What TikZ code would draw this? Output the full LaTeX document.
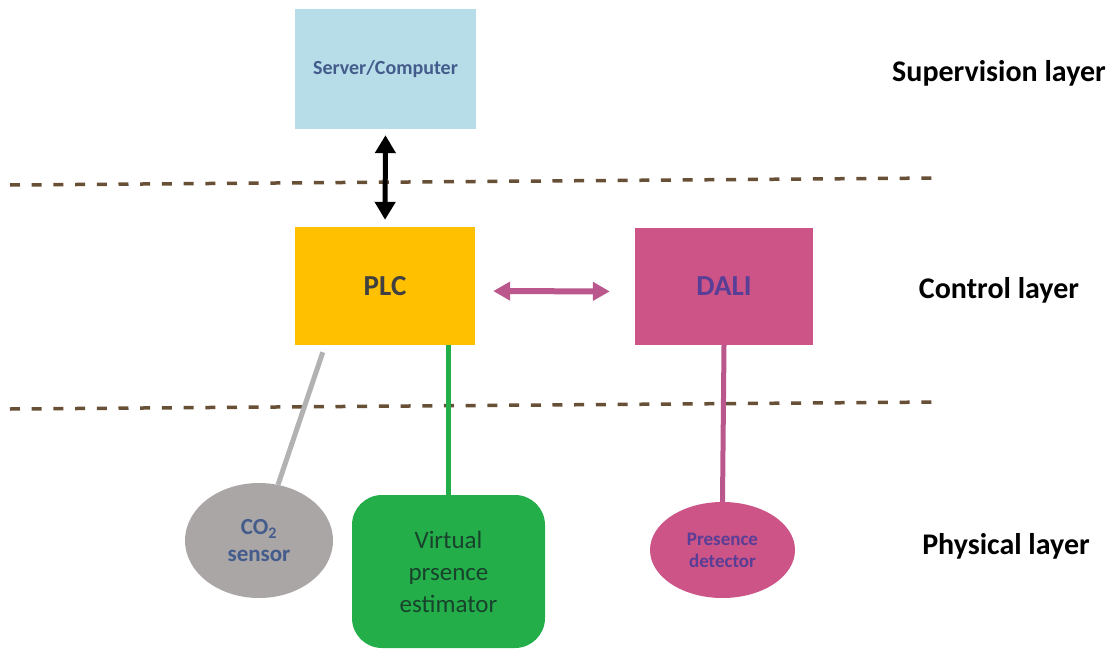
\documentclass[tikz,border=0pt]{standalone}
\usepackage{fontspec}
\setmainfont{Carlito}
\usetikzlibrary{arrows.meta,calc,shapes.geometric}
\definecolor{srvblue}{RGB}{183,221,232}
\definecolor{srvtext}{RGB}{68,92,140}
\definecolor{plcyel}{RGB}{255,192,0}
\definecolor{plctext}{RGB}{64,64,64}
\definecolor{dalipink}{RGB}{204,84,134}
\definecolor{dalitext}{RGB}{88,62,150}
\definecolor{linkpink}{RGB}{186,88,142}
\definecolor{co2gray}{RGB}{170,166,166}
\definecolor{co2line}{RGB}{178,178,178}
\definecolor{vgreen}{RGB}{36,174,74}
\definecolor{vtext}{RGB}{24,66,44}
\definecolor{dashbrown}{RGB}{104,80,54}
\tikzset{
  box/.style={draw=none, inner sep=0pt, align=center},
  layerlabel/.style={font=\fontsize{30}{34}\selectfont\bfseries, text=black, inner sep=0pt},
  layerline/.style={draw=dashbrown, line width=3.5pt, dash pattern=on 10pt off 11.7pt},
  conn/.style={line width=5pt},
}
\begin{document}
\begin{tikzpicture}[x=1pt,y=-1pt]
\useasboundingbox[fill=white] (0,0) rectangle (1118,650);
% layer separators
\coordinate (d1a) at (10,185);
\coordinate (d1b) at (940,178);
\coordinate (d2a) at (10,409);
\coordinate (d2b) at (940,402);
\draw[layerline] (d1a) -- (d1b);
\draw[layerline] (d2a) -- (d2b);
% nodes
\node[box, fill=srvblue, minimum width=181pt, minimum height=120pt,
      text=srvtext, font=\fontsize{20}{24}\selectfont\bfseries] (server) at (385.5,69) {Server/Computer};
\node[box, fill=plcyel, minimum width=180pt, minimum height=118pt,
      text=plctext, font=\fontsize{29}{34}\selectfont\bfseries] (plc) at (385,286) {PLC};
\node[box, fill=dalipink, minimum width=178pt, minimum height=117pt,
      text=dalitext, font=\fontsize{29}{34}\selectfont\bfseries] (dali) at (724,286.5) {DALI};
\node[box, ellipse, fill=co2gray, minimum width=148pt, minimum height=115pt,
      text=srvtext, font=\fontsize{23}{27}\selectfont\bfseries] (co2) at (259,540.5) {CO\textsubscript{2}\\sensor};
\node[box, rounded corners=30pt, fill=vgreen, minimum width=193pt, minimum height=153pt,
      text=vtext, font=\fontsize{25}{32}\selectfont] (virt) at (448.5,571.5) {Virtual\\prsence\\estimator};
\node[box, ellipse, fill=dalipink, minimum width=145pt, minimum height=96pt,
      text=dalitext, font=\fontsize{19}{22}\selectfont\bfseries] (pres) at (722.5,550) {Presence\\detector};
% layer labels
\node[layerlabel] (lsup) at (999,73) {Supervision layer};
\node[layerlabel] (lctl) at (999,290) {Control layer};
\node[layerlabel] (lphy) at (1006,546) {Physical layer};
% connectors
\draw[conn, black, {Triangle[length=18pt,width=20pt]}-{Triangle[length=18pt,width=20pt]},
      shorten <=6pt, shorten >=7pt] (server.south) -- (plc.north);
\draw[line width=6pt, linkpink, {Triangle[length=17pt,width=18pt]}-{Triangle[length=17pt,width=18pt]},
      shorten <=18pt, shorten >=25pt] ([yshift=-5pt]plc.east) -- ([yshift=-5pt]dali.west);
\draw[conn, co2line] ($(plc.south west)+(28,7)$) -- ($(co2.north)+(19,2)$);
\draw[conn, vgreen] (virt.north |- plc.south) -- (virt.north);
\draw[conn, linkpink] (dali.south) -- (pres.north);
\end{tikzpicture}
\end{document}
